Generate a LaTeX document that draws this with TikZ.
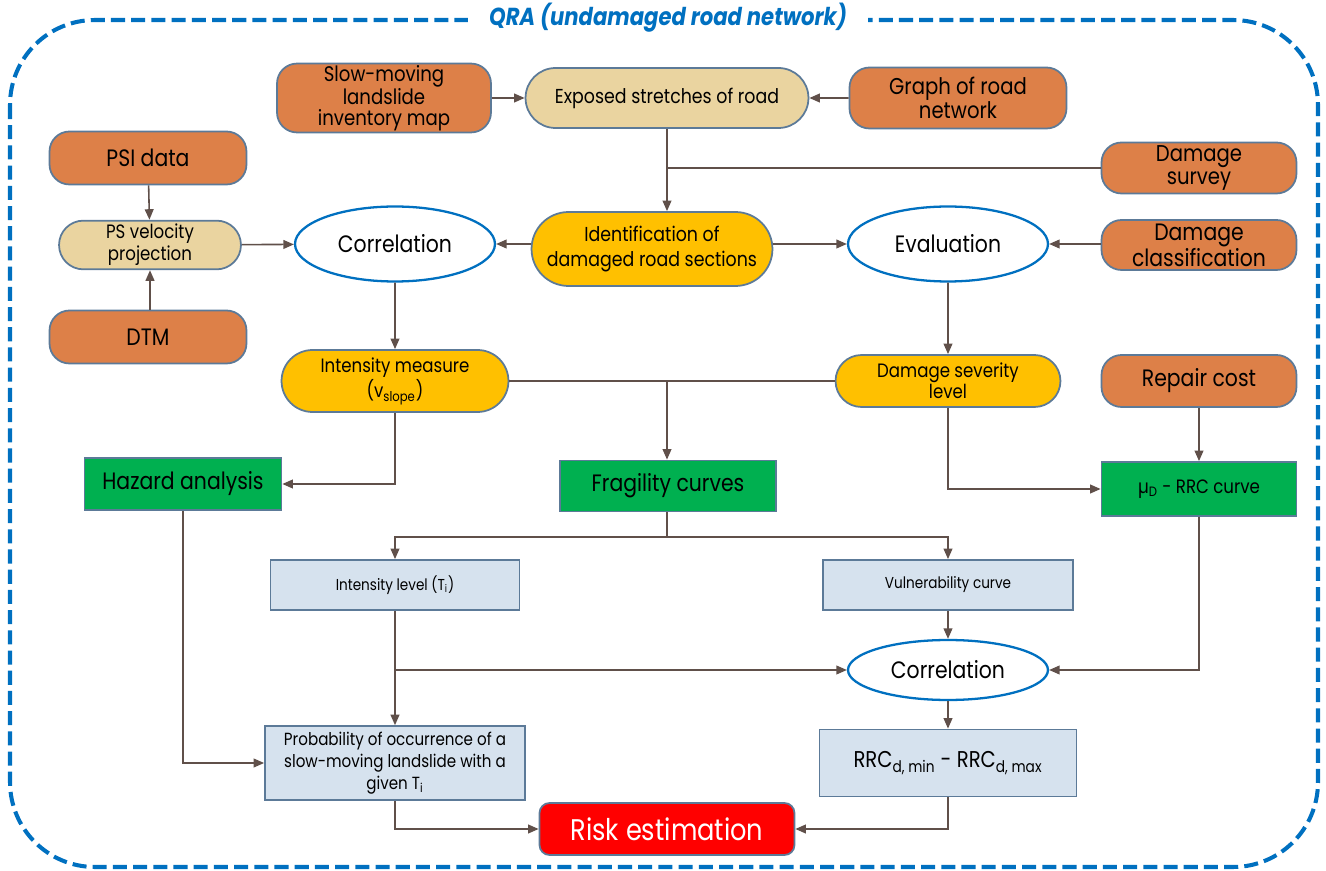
\documentclass[tikz,border=0pt]{standalone}
\usepackage{fontspec}
\setmainfont{Poppins}[FakeStretch=0.86]
\usetikzlibrary{shapes.geometric,shapes.misc,arrows.meta}
\definecolor{qrablue}{RGB}{0,112,192}
\definecolor{boxline}{RGB}{92,122,152}
\definecolor{dataorange}{RGB}{221,128,72}
\definecolor{tanfill}{RGB}{234,212,160}
\definecolor{stepyellow}{RGB}{255,192,0}
\definecolor{modelgreen}{RGB}{0,176,80}
\definecolor{outblue}{RGB}{214,226,238}
\definecolor{linkgray}{RGB}{96,80,74}
\newcommand{\fs}[2]{\fontsize{#1}{#2}\selectfont}
\begin{document}
\begin{tikzpicture}[x=0.02cm,y=-0.02cm]
        % Styles
        \tikzstyle{data box}=[draw=boxline,line width=1pt,fill=dataorange,rounded corners=0.4cm,align=center,inner ysep=1pt]
        \tikzstyle{pill}=[rounded rectangle,draw=boxline,line width=1pt,align=center,inner sep=2pt]
        \tikzstyle{process}=[ellipse,draw=qrablue,line width=1.3pt,fill=white,minimum width=4cm,minimum height=1.5cm,font=\fs{13.5}{15}]
        \tikzstyle{model box}=[draw=boxline,line width=1pt,fill=modelgreen,align=center,font=\fs{13.5}{15}]
        \tikzstyle{result box}=[draw=boxline,line width=1pt,fill=outblue,align=center]
        \tikzstyle{link}=[draw=linkgray,line width=0.9pt,-{Triangle[length=6pt,width=5pt]}]
        \tikzstyle{joint}=[draw=linkgray,line width=0.9pt]
        \useasboundingbox (0,0) rectangle (1326,871);
        %frame
        \draw[qrablue,line width=2.3pt,dash pattern=on 8pt off 3.5pt,rounded corners=1.7cm] (10,20) rectangle (1318,867);
        \node[fill=white,text=qrablue,inner xsep=12pt,font=\fs{14}{16}\bfseries\itshape] (title) at (668,18) {QRA (undamaged road network)};
        %inputs
        \node[data box,minimum width=4.28cm,minimum height=1.22cm,font=\fs{12}{11.6}] (inventory) at (384,98) {Slow-moving\\landslide\\inventory map};
        \node[pill,fill=tanfill,minimum width=5.8cm,minimum height=1.2cm,font=\fs{11.5}{13}] (exposed) at (667,98) {Exposed stretches of road};
        \node[data box,minimum width=4.34cm,minimum height=1.22cm,font=\fs{13}{12.5}] (graph) at (958,98) {Graph of road\\network};
        \node[data box,minimum width=3.94cm,minimum height=1.06cm,font=\fs{13.5}{15}] (psi) at (148,158) {PSI data};
        \node[data box,minimum width=3.9cm,minimum height=1.02cm,font=\fs{13}{12.6}] (survey) at (1199,168) {Damage\\survey};
        \node[pill,fill=tanfill,minimum width=3.78cm,minimum height=0.92cm,font=\fs{11}{12.5}] (psproj) at (150,245) {PS velocity\\projection};
        \node[data box,minimum width=3.94cm,minimum height=1.06cm,font=\fs{13.5}{15}] (dtm) at (148,337) {DTM};
        \node[data box,minimum width=3.9cm,minimum height=1.0cm,font=\fs{13.5}{12.6}] (classif) at (1199,245) {Damage\\classification};
        \node[data box,minimum width=3.9cm,minimum height=1.04cm,font=\fs{13.5}{15}] (repair) at (1199,381) {Repair cost};
        %analysis
        \node[process] (corrA) at (395,244) {Correlation};
        \node[pill,fill=stepyellow,minimum width=4.96cm,minimum height=1.48cm,font=\fs{11.5}{14.5}] (ident) at (652,249) {Identification of\\damaged road sections};
        \node[process] (evalu) at (948,244) {Evaluation};
        \node[pill,fill=stepyellow,minimum width=4.68cm,minimum height=1.24cm,font=\fs{11}{14.5}] (imeasure) at (395,381) {Intensity measure\\(v\textsubscript{slope})};
        \node[pill,fill=stepyellow,minimum width=4.64cm,minimum height=1.04cm,font=\fs{11}{12}] (severity) at (948,381) {Damage severity\\level};
        \node[model box,minimum width=3.94cm,minimum height=1.04cm] (hazard) at (183,484) {Hazard analysis};
        \node[model box,minimum width=4.32cm,minimum height=1.02cm] (fragility) at (668,486) {Fragility curves};
        \node[model box,minimum width=3.9cm,minimum height=1.08cm,font=\fs{11}{13}] (rrccurve) at (1199,489) {µ\textsubscript{D} - RRC curve};
        %outputs
        \node[result box,minimum width=4.98cm,minimum height=1.0cm,font=\fs{9}{11}] (ilevel) at (395,585) {Intensity level (T\textsubscript{i})};
        \node[result box,minimum width=5.0cm,minimum height=1.0cm,font=\fs{9}{11}] (vulner) at (948,585) {Vulnerability curve};
        \node[process,minimum height=1.2cm] (corrB) at (948,670) {Correlation};
        \node[result box,minimum width=5.2cm,minimum height=1.34cm,font=\fs{10}{12.5}] (prob) at (395,763) {Probability of occurrence of a\\slow-moving landslide with a\\given T\textsubscript{i}};
        \node[result box,minimum width=5.14cm,minimum height=1.34cm,font=\fs{13}{15}] (rrc) at (948,763) {RRC\textsubscript{d, min} - RRC\textsubscript{d, max}};
        \node[draw=boxline,line width=1pt,fill=red,text=white,rounded corners=0.2cm,minimum width=5.1cm,minimum height=1.04cm,font=\fs{17}{19}] (risk) at (667,829) {Risk estimation};
        %connectors
        \draw[link] (inventory) -- (exposed);
        \draw[link] (graph) -- (exposed);
        \coordinate (mergeA) at (667,168);
        \draw[joint] (survey.west) -- (mergeA);
        \draw[link] (exposed.south) -- (ident.north -| exposed.south);
        \draw[link] (psi) -- (psproj);
        \draw[link] (dtm.north -| psproj.south) -- (psproj.south);
        \draw[link] (psproj) -- (corrA);
        \draw[link] (ident.west |- corrA.east) -- (corrA.east);
        \draw[link] (ident.east |- evalu.west) -- (evalu.west);
        \draw[link] (classif.west |- evalu.east) -- (evalu.east);
        \draw[link] (corrA) -- (imeasure);
        \draw[link] (evalu) -- (severity);
        \coordinate (mergeB) at (667,381);
        \draw[joint] (imeasure.east) -- (severity.west);
        \draw[link] (mergeB) -- (fragility.north -| mergeB);
        \draw[link] (imeasure.south) |- (hazard.east);
        \draw[link] (severity.south) |- (rrccurve.west);
        \draw[link] (repair) -- (rrccurve);
        \coordinate (splitA) at (667,537);
        \draw[joint] (fragility.south -| splitA) -- (splitA);
        \draw[link] (splitA) -| (ilevel.north);
        \draw[link] (splitA) -| (vulner.north);
        \draw[link] (hazard.south) |- (prob.west);
        \draw[link] (ilevel) -- (prob);
        \coordinate (splitB) at (395,670);
        \draw[link] (splitB) -- (corrB.west);
        \draw[link] (vulner) -- (corrB);
        \draw[link] (rrccurve.south) |- (corrB.east);
        \draw[link] (corrB) -- (rrc);
        \draw[link] (prob.south) |- (risk.west);
        \draw[link] (rrc.south) |- (risk.east);
\end{tikzpicture}
\end{document}
